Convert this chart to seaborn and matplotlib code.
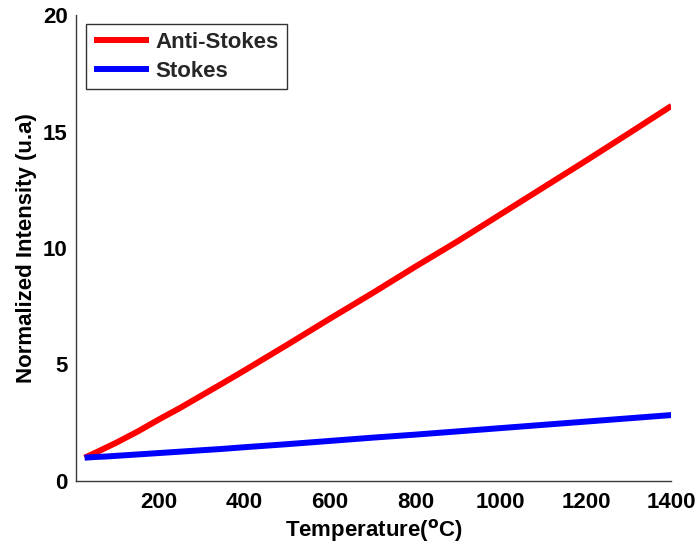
import matplotlib
matplotlib.use("Agg")
import matplotlib.pyplot as plt
import seaborn as sns
import pandas as pd

# Normalized Raman intensity versus temperature
temperature_c = [25, 50, 75, 100, 150, 200, 250, 300, 350, 400, 500, 600, 700, 800,
                 900, 1000, 1100, 1200, 1300, 1400]
anti_stokes = [1.0, 1.21, 1.43, 1.65, 2.13, 2.65, 3.15, 3.68, 4.21, 4.75, 5.85, 6.97,
               8.07, 9.20, 10.30, 11.45, 12.60, 13.75, 14.92, 16.10]
stokes = [1.0, 1.03, 1.05, 1.08, 1.14, 1.20, 1.26, 1.32, 1.38, 1.45, 1.58, 1.72,
          1.86, 1.99, 2.13, 2.27, 2.41, 2.55, 2.69, 2.83]

series_names = ["Anti-Stokes", "Stokes"]
x_ticks = [200, 400, 600, 800, 1000, 1200, 1400]
y_ticks = [0, 5, 10, 15, 20]

df = pd.concat([
    pd.DataFrame({"T": temperature_c, "I": anti_stokes, "series": series_names[0]}),
    pd.DataFrame({"T": temperature_c, "I": stokes, "series": series_names[1]}),
])

sns.set_theme(style="white")
plt.rcParams["font.family"] = ["Liberation Sans", "DejaVu Sans"]
plt.rcParams["font.weight"] = "bold"

fig = plt.figure(figsize=(6.98, 5.48), dpi=100)
ax = fig.add_axes([0.109, 0.1223, 0.853, 0.8503])

sns.lineplot(data=df, x="T", y="I", hue="series", hue_order=series_names,
             palette=["#ff0000", "#0000ff"], linewidth=4.3, ax=ax,
             solid_capstyle="butt", legend=True)

ax.set_xlim(5, 1400)
ax.set_ylim(0, 20)
ax.set_xticks(x_ticks)
ax.set_yticks(y_ticks)

axis_color = "#3a3a3a"
for side in ["top", "right"]:
    ax.spines[side].set_visible(False)
for side in ["left", "bottom"]:
    ax.spines[side].set_color(axis_color)
    ax.spines[side].set_linewidth(1.0)

ax.tick_params(axis="both", direction="in", length=3.5, width=0.8,
               color=axis_color, labelsize=16, pad=6)
ax.tick_params(axis="x", pad=8)
for lbl in ax.get_xticklabels() + ax.get_yticklabels():
    lbl.set_fontweight("bold")
    lbl.set_color("black")

ax.set_xlabel("Temperature($\\mathbf{^{o}}$C)", fontsize=16, fontweight="bold",
              color="black", labelpad=3)
ax.set_ylabel("Normalized Intensity (u.a)", fontsize=16, fontweight="bold",
              color="black", labelpad=4)

leg = ax.legend(loc="upper left", bbox_to_anchor=(0.0163, 0.980),
                borderaxespad=0, fontsize=16, frameon=True, fancybox=False,
                handlelength=2.5, handletextpad=0.3, labelspacing=0.34,
                borderpad=0.35, title=None)
leg.get_frame().set_edgecolor("black")
leg.get_frame().set_linewidth(1.0)
for t in leg.get_texts():
    t.set_fontweight("bold")
for line in leg.get_lines():
    line.set_linewidth(4.3)

fig.savefig("out.png", dpi=100, facecolor="white")
